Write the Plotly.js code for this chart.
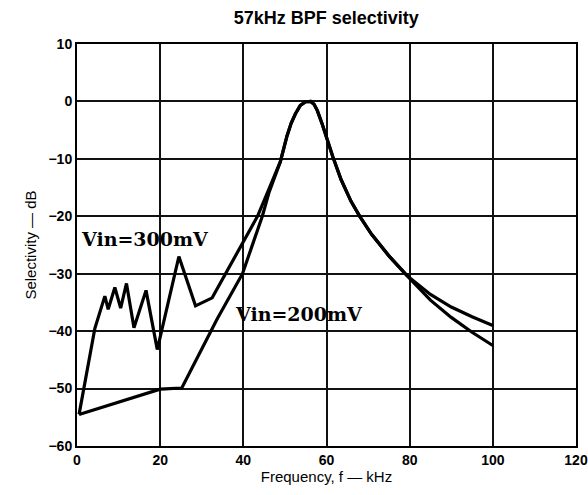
<!DOCTYPE html>
<html>
<head>
<meta charset="utf-8">
<script src="https://cdn.plot.ly/plotly-3.0.1.min.js"></script>
<style>html,body{margin:0;padding:0;background:#fff;}#chart{width:588px;height:495px;}</style>
</head>
<body>
<div id="chart"></div>
<script>
// Vin = 300 mV curve
var f300 = [0.5, 4.3, 6.7, 7.5, 9.1, 10.5, 11.9, 13.7, 16.6, 19.3, 24.5, 28.5, 32.5, 35.3, 39.4, 43.4, 46.2, 48.9, 50.5, 51.5, 52.5, 53.7, 55, 56.2, 57, 57.8, 59, 60.2, 61.5, 63.5, 65.9, 68, 70.8, 74.9, 79.3, 85, 90, 95, 100];
var s300 = [-54.5, -39.5, -33.9, -36.2, -32.4, -36, -31.7, -39.4, -32.9, -43.2, -27, -35.6, -34.2, -30.5, -25.2, -20, -15.2, -10.5, -6, -3.8, -2.2, -0.7, -0.05, 0, -0.5, -1.6, -4, -6.8, -9.6, -13.6, -17.4, -20, -23.1, -26.8, -30.3, -34.6, -37.6, -40.2, -42.5];
// Vin = 200 mV curve
var f200 = [0.5, 20, 25.2, 33.7, 39.8, 44.6, 46.2, 48.9, 50.5, 51.5, 52.5, 53.7, 55, 56.2, 57, 57.8, 59, 60.2, 61.5, 63.5, 65.9, 68, 70.8, 74.9, 79.3, 85, 90, 95, 100];
var s200 = [-54.5, -50.1, -49.9, -37.9, -30, -19.9, -15.8, -10.5, -6, -3.8, -2.2, -0.7, -0.05, 0, -0.5, -1.6, -4, -6.8, -9.6, -13.6, -17.4, -20, -23.1, -26.8, -30.3, -33.6, -35.8, -37.5, -39];
var xTicks = [0, 20, 40, 60, 80, 100, 120];
var yTicks = [10, 0, -10, -20, -30, -40, -50, -60];

var traces = [
  {x: f300, y: s300, mode: 'lines', line: {color: '#000', width: 3.2}, name: 'Vin=300mV'},
  {x: f200, y: s200, mode: 'lines', line: {color: '#000', width: 3.2}, name: 'Vin=200mV'}
];

var tickFont = {family: 'Liberation Sans, Arial, sans-serif', size: 14, color: '#000', weight: 'bold'};
var titleFont = {family: 'Liberation Sans, Arial, sans-serif', size: 15, color: '#000'};
var layout = {
  width: 588, height: 495,
  margin: {l: 77, r: 12, t: 44, b: 49},
  paper_bgcolor: '#fff', plot_bgcolor: '#fff',
  showlegend: false,
  title: {text: '<b>57kHz BPF selectivity</b>', x: 0.555, xanchor: 'center', y: 0.965, yanchor: 'middle',
          font: {family: 'Liberation Sans, Arial, sans-serif', size: 18, color: '#000'}},
  xaxis: {range: [0, 120], tickvals: xTicks, ticktext: xTicks.map(String),
          showgrid: true, gridcolor: '#111', gridwidth: 2,
          zeroline: false, showline: true, linecolor: '#000', linewidth: 2, mirror: true,
          ticks: '', tickfont: tickFont,
          title: {text: 'Frequency, f — kHz', standoff: 4, font: titleFont}},
  yaxis: {range: [-60, 10], tickvals: yTicks, ticktext: yTicks.map(function(v){return v < 0 ? '\u2212' + Math.abs(v) : String(v);}),
          showgrid: true, gridcolor: '#111', gridwidth: 2,
          zeroline: false, showline: true, linecolor: '#000', linewidth: 2, mirror: true,
          ticks: '', tickfont: tickFont,
          title: {text: 'Selectivity — dB', standoff: 8, font: titleFont}},
  annotations: [
    {x: 0.5, y: -24, xref: 'x', yref: 'y', xanchor: 'left', yanchor: 'middle', showarrow: false,
     text: '<b>Vin=300mV</b>', font: {family: 'DejaVu Serif, Liberation Serif, serif', size: 19, color: '#000'}},
    {x: 37.5, y: -37, xref: 'x', yref: 'y', xanchor: 'left', yanchor: 'middle', showarrow: false,
     text: '<b>Vin=200mV</b>', font: {family: 'DejaVu Serif, Liberation Serif, serif', size: 19, color: '#000'}}
  ]
};
Plotly.newPlot('chart', traces, layout, {displayModeBar: false, staticPlot: true});
</script>
</body>
</html>
